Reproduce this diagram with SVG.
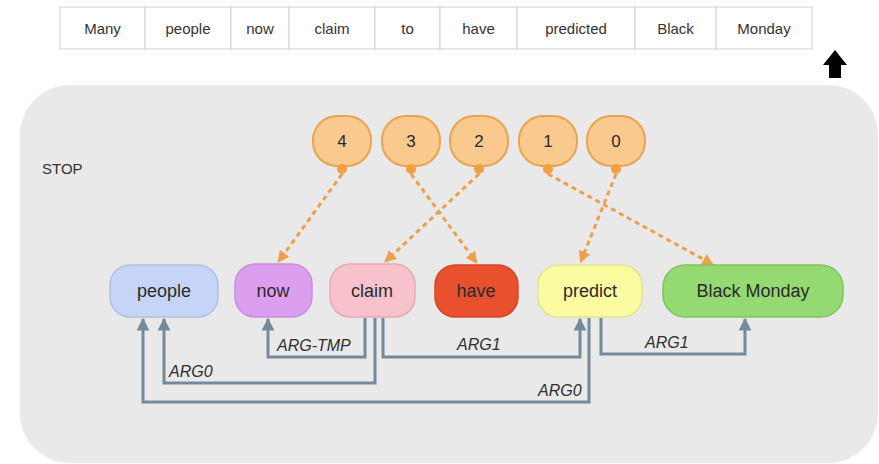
<svg xmlns="http://www.w3.org/2000/svg" width="879" height="464" viewBox="0 0 879 464">
<defs>
<style>
.cell{fill:#fff;stroke:#cfcfcf;stroke-width:1}
.wt{font-family:"Liberation Sans",Arial,sans-serif;font-size:15px;fill:#333;text-anchor:middle}
.num{fill:#f9c98e;stroke:#eaa352;stroke-width:2}
.dot{fill:#f0a040}
.nt{font-family:"Liberation Sans",Arial,sans-serif;font-size:17px;fill:#2a2a2a;text-anchor:middle}
.node{stroke-width:1.5}
.nl{font-family:"Liberation Sans",Arial,sans-serif;font-size:18px;fill:#2a2a2a;text-anchor:middle}
.dash{fill:none;stroke:#eda04a;stroke-width:3;stroke-dasharray:5 4;marker-end:url(#oa)}
.edge{fill:none;stroke:#74899a;stroke-width:3;marker-end:url(#ga)}
.el{font-family:"Liberation Sans",Arial,sans-serif;font-size:16px;font-style:italic;fill:#2e2e2e}
</style>
<marker id="oa" viewBox="0 0 10 10" refX="8" refY="5" markerWidth="4" markerHeight="4" orient="auto" markerUnits="strokeWidth">
<path d="M0,0 L10,5 L0,10 z" fill="#eda04a"/>
</marker>
<marker id="ga" viewBox="0 0 10 10" refX="9" refY="5" markerWidth="4.3" markerHeight="4.3" orient="auto" markerUnits="strokeWidth">
<path d="M0,0 L10,5 L0,10 z" fill="#74899a"/>
</marker>
</defs>
<rect width="879" height="464" fill="#fff"/>
<g id="sentence">
<rect class="cell" x="60" y="7" width="85" height="42"/>
<rect class="cell" x="145" y="7" width="86" height="42"/>
<rect class="cell" x="231" y="7" width="58" height="42"/>
<rect class="cell" x="289" y="7" width="86" height="42"/>
<rect class="cell" x="375" y="7" width="65" height="42"/>
<rect class="cell" x="440" y="7" width="77" height="42"/>
<rect class="cell" x="517" y="7" width="118" height="42"/>
<rect class="cell" x="635" y="7" width="81" height="42"/>
<rect class="cell" x="716" y="7" width="96" height="42"/>
<text class="wt" x="102.5" y="34">Many</text>
<text class="wt" x="188" y="34">people</text>
<text class="wt" x="260" y="34">now</text>
<text class="wt" x="332" y="34">claim</text>
<text class="wt" x="407.5" y="34">to</text>
<text class="wt" x="478.5" y="34">have</text>
<text class="wt" x="576" y="34">predicted</text>
<text class="wt" x="675.5" y="34">Black</text>
<text class="wt" x="764" y="34">Monday</text>
</g>
<path id="up-arrow" d="M835,50 L847,65 L841,65 L841,78 L829,78 L829,65 L823,65 z" fill="#000"/>
<rect id="panel" x="20" y="85" width="858" height="378" rx="50" fill="#e9e9e9"/>
<text id="stop" x="42" y="174" font-family="Liberation Sans,Arial,sans-serif" font-size="15" fill="#333">STOP</text>
<g id="stack">
<g id="s4"><rect class="num" x="313" y="116" width="58" height="50" rx="24"/><circle class="dot" cx="342" cy="169" r="5"/><text class="nt" x="342" y="147">4</text></g>
<g id="s3"><rect class="num" x="382" y="116" width="58" height="50" rx="24"/><circle class="dot" cx="411" cy="169" r="5"/><text class="nt" x="411" y="147">3</text></g>
<g id="s2"><rect class="num" x="450" y="116" width="58" height="50" rx="24"/><circle class="dot" cx="479" cy="169" r="5"/><text class="nt" x="479" y="147">2</text></g>
<g id="s1"><rect class="num" x="519" y="116" width="58" height="50" rx="24"/><circle class="dot" cx="548" cy="169" r="5"/><text class="nt" x="548" y="147">1</text></g>
<g id="s0"><rect class="num" x="587" y="116" width="58" height="50" rx="24"/><circle class="dot" cx="616" cy="169" r="5"/><text class="nt" x="616" y="147">0</text></g>
</g>
<g id="connectors">
<path class="dash" d="M342,174 L279,261"/>
<path class="dash" d="M411,174 L476,262"/>
<path class="dash" d="M479,174 L386,261"/>
<path class="dash" d="M548,174 L712,264"/>
<path class="dash" d="M616,174 L581,261"/>
<path class="edge" d="M365,318 L365,357 L268,357 L268,319"/>
<path class="edge" d="M375,318 L375,383 L164,383 L164,319"/>
<path class="edge" d="M383,318 L383,357 L580,357 L580,319"/>
<path class="edge" d="M589,318 L589,402 L143,402 L143,319"/>
<path class="edge" d="M601,318 L601,354 L745,354 L745,319"/>
<text class="el" x="277" y="351">ARG-TMP</text>
<text class="el" x="169" y="377">ARG0</text>
<text class="el" x="457" y="350">ARG1</text>
<text class="el" x="538" y="396">ARG0</text>
<text class="el" x="645" y="348">ARG1</text>
</g>
<g id="n-people"><rect class="node" x="110" y="265" width="108" height="52" rx="20" fill="#c6d5f7" stroke="#b0c0e0"/><text class="nl" x="164" y="297">people</text></g>
<g id="n-now"><rect class="node" x="235" y="264" width="77" height="53" rx="20" fill="#dc9ff0" stroke="#c890dc"/><text class="nl" x="273" y="297">now</text></g>
<g id="n-claim"><rect class="node" x="330" y="264" width="85" height="53" rx="20" fill="#f7c2cc" stroke="#e4aab6"/><text class="nl" x="372" y="297">claim</text></g>
<g id="n-have"><rect class="node" x="435" y="265" width="83" height="52" rx="20" fill="#e8502e" stroke="#d4482a"/><text class="nl" x="476" y="297">have</text></g>
<g id="n-predict"><rect class="node" x="538" y="265" width="104" height="52" rx="20" fill="#fbfba2" stroke="#e4e490"/><text class="nl" x="590" y="297">predict</text></g>
<g id="n-blackmonday"><rect class="node" x="663" y="265" width="180" height="52" rx="22" fill="#94d972" stroke="#80c462"/><text class="nl" x="753" y="297">Black Monday</text></g>
</svg>
